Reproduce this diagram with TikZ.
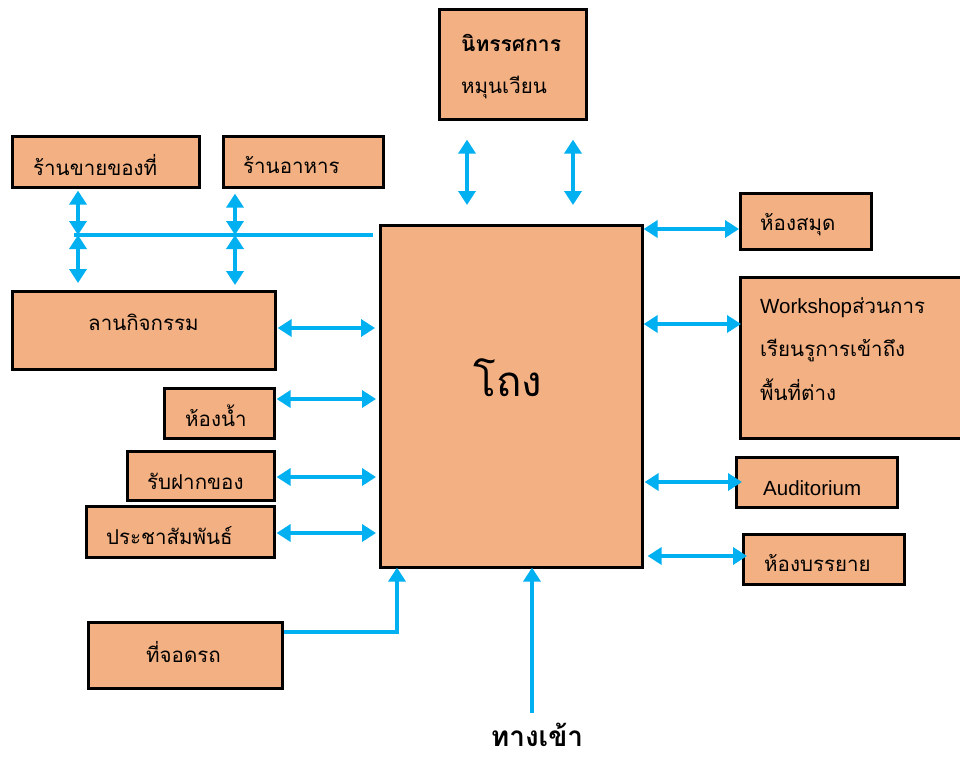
\documentclass[tikz,border=0pt]{standalone}
\usepackage{fontspec}
\setmainfont[Script=Thai]{Loma}
\newfontfamily\latinfont{Liberation Sans}
\usetikzlibrary{arrows.meta}
\definecolor{boxfill}{RGB}{243,177,131}
\definecolor{linkblue}{RGB}{0,176,240}
\tikzset{
  room/.style={draw=black, line width=2.6pt, fill=boxfill, inner sep=0pt, anchor=north west},
  lbl/.style={anchor=west, inner sep=0pt, font=\fontsize{20.5}{22}\selectfont},
  link/.style={draw=linkblue, line width=3.6pt, {Triangle[width=17pt,length=14pt]}-{Triangle[width=17pt,length=14pt]}},
  feed/.style={draw=linkblue, line width=3.6pt, -{Triangle[width=17pt,length=14pt]}},
  bar/.style={draw=linkblue, line width=3.6pt}
}
\begin{document}
\begin{tikzpicture}[x=1pt,y=-1pt]
\useasboundingbox (0,0) rectangle (960,758);
\fill[white] (0,0) rectangle (960,758);
\begin{scope}
\clip (0,0) rectangle (960,758);
% rooms
\node[room, minimum width=147pt, minimum height=110pt] (exhib) at (438,8) {};
\node[room, minimum width=187pt, minimum height=51pt] (shop) at (11,135) {};
\node[room, minimum width=160pt, minimum height=51pt] (food) at (222,135) {};
\node[room, minimum width=263pt, minimum height=78pt] (plaza) at (11,290) {};
\node[room, minimum width=262pt, minimum height=342pt] (hall) at (379,224) {};
\node[room, minimum width=131pt, minimum height=56pt] (lib) at (739,192) {};
\node[room, minimum width=240pt, minimum height=161pt] (work) at (739,276) {};
\node[room, minimum width=110pt, minimum height=50pt] (wc) at (163,387) {};
\node[room, minimum width=147pt, minimum height=49pt] (cloak) at (126,450) {};
\node[room, minimum width=188pt, minimum height=51pt] (info) at (85,505) {};
\node[room, minimum width=161pt, minimum height=50pt] (audi) at (735,456) {};
\node[room, minimum width=161pt, minimum height=50pt] (lect) at (742,533) {};
\node[room, minimum width=194pt, minimum height=66pt] (park) at (87,621) {};
\end{scope}
% labels
\node[lbl, font=\fontsize{21}{23}\selectfont\bfseries] (exhibA) at (461,43) {นิทรรศการ};
\node[lbl] (exhibB) at (461,87) {หมุนเวียน};
\node[lbl] (shopT) at (33,165) {ร้านขายของที่};
\node[lbl] (foodT) at (243,165) {ร้านอาหาร};
\node[lbl] (plazaT) at (88,322) {ลานกิจกรรม};
\node[anchor=center, inner sep=0pt, font=\fontsize{42}{46}\selectfont] (hallT) at (508,378) {โถง};
\node[lbl] (libT) at (760,225) {ห้องสมุด};
\node[lbl] (workA) at (760,308) {{\fontsize{20.5}{22}\latinfont Workshop}ส่วนการ};
\node[lbl] (workB) at (760,350) {เรียนรูการเข้าถึง};
\node[lbl] (workC) at (760,390) {พื้นที่ต่าง};
\node[lbl] (wcT) at (185,416) {ห้องน้ำ};
\node[lbl] (cloakT) at (147,481) {รับฝากของ};
\node[lbl] (infoT) at (106,536) {ประชาสัมพันธ์};
\node[lbl, font=\fontsize{20.5}{22}\selectfont\latinfont] (audiT) at (763,488) {Auditorium};
\node[lbl] (lectT) at (764,563) {ห้องบรรยาย};
\node[lbl] (parkT) at (146,652) {ที่จอดรถ};
\node[anchor=center, inner sep=0pt, font=\fontsize{28}{30}\selectfont\bfseries] (entry) at (537,735) {ทางเข้า};
% connectors
\coordinate (busW) at (74,235);
\coordinate (busE) at (373,235);
\coordinate (j1) at (78,235);
\coordinate (j2) at (235,235);
\draw[bar] (busW) -- (busE);
\draw[link] ([yshift=-2pt]shop.south -| j1) -- (j1);
\draw[link] (j1) -- ([yshift=7pt]plaza.north -| j1);
\draw[link] ([yshift=-5pt]food.south -| j2) -- (j2);
\draw[link] (j2) -- ([yshift=5pt]plaza.north -| j2);
\draw[link] ([yshift=-19pt]exhib.south -| 467,0) -- ([yshift=19pt]hall.north -| 467,0);
\draw[link] ([yshift=-19pt]exhib.south -| 573,0) -- ([yshift=19pt]hall.north -| 573,0);
\draw[link] (hall.east |- 0,229) -- (lib.west |- 0,229);
\draw[link] (hall.east |- 0,324) -- ([xshift=2pt]work.west |- 0,324);
\draw[link] ([xshift=1pt]hall.east |- 0,482) -- ([xshift=7pt]audi.west |- 0,482);
\draw[link] ([xshift=4pt]hall.east |- 0,556) -- ([xshift=5pt]lect.west |- 0,556);
\draw[link] ([xshift=1pt]plaza.east |- 0,328) -- ([xshift=-4pt]hall.west |- 0,328);
\draw[link] ([xshift=1pt]wc.east |- 0,399) -- ([xshift=-3pt]hall.west |- 0,399);
\draw[link] ([xshift=1pt]cloak.east |- 0,477) -- ([xshift=-3pt]hall.west |- 0,477);
\draw[link] ([xshift=1pt]info.east |- 0,533) -- ([xshift=-3pt]hall.west |- 0,533);
\draw[feed] (park.east |- 0,632) -| ([yshift=1pt]hall.south -| 397,0);
\coordinate (entryTail) at (532,713);
\draw[feed] (entryTail) -- ([yshift=1pt]hall.south -| entryTail);
\end{tikzpicture}
\end{document}
